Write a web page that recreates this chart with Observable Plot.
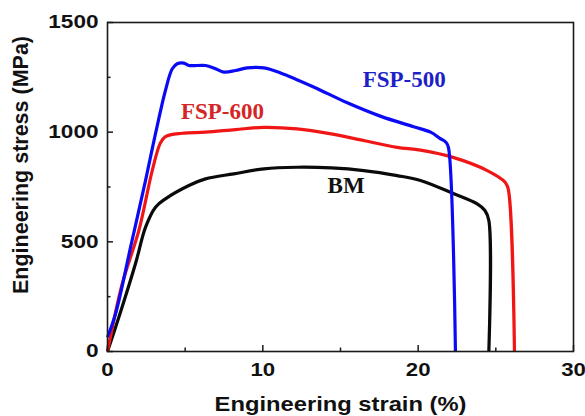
<!DOCTYPE html>
<html><head><meta charset="utf-8">
<script src="https://cdn.jsdelivr.net/npm/d3@7"></script>
<script src="https://cdn.jsdelivr.net/npm/@observablehq/plot@0.6"></script>
<style>body{margin:0;background:#fff}</style>
</head><body><div id="chart"></div>
<script>
// ---- data ----
const fsp500Strain = [0, 0.52, 1.5, 2.45, 3.09, 3.73, 4.17, 4.49, 4.91, 5.24, 6.31, 6.95, 7.49, 8.24, 9.0, 10.07, 11.14, 13.3, 15.4, 17.6, 19.7, 20.8, 21.4, 21.8, 21.95, 22.4];
const fsp500Stress = [65, 172, 480, 780, 993, 1190, 1289, 1312, 1315, 1304, 1304, 1289, 1274, 1281, 1293, 1293, 1270, 1205, 1135, 1072, 1025, 1000, 972, 953, 930, 0];

const fsp600Strain = [0, 0.95, 2.02, 2.88, 3.4, 3.73, 4.81, 6.31, 8.24, 10.07, 12.2, 14.4, 16.5, 18.65, 20.15, 22.3, 24.45, 25.6, 25.8, 26.2];
const fsp600Stress = [0, 309, 552, 825, 950, 980, 995, 1000, 1012, 1022, 1015, 992, 962, 931, 918, 884, 825, 772, 740, 0];

const bmStrain = [0, 0.73, 1.8, 2.45, 3.09, 3.73, 5.24, 6.31, 8.13, 10.07, 12.2, 14.4, 16.5, 18.65, 20.15, 22.3, 23.8, 24.3, 24.55, 24.55];
const bmStress = [0, 156, 400, 567, 658, 696, 757, 787, 810, 833, 840, 837, 825, 802, 780, 719, 673, 643, 597, 0];

const xTicks = [0, 10, 20, 30];
const xMinorTicks = [5, 15, 25];
const yTicks = [0, 500, 1000, 1500];
const yMinorTicks = [250, 750, 1250];

const curveLabels = ["FSP-500", "FSP-600", "BM"];
const curveLabelX = [19.1, 7.4, 15.36];
const curveLabelY = [1240, 1094, 757];

const xTitle = "Engineering strain (%)";
const yTitle = "Engineering stress (MPa)";

// ---- styling ----
const lineColors = ["#0a0af5", "#f01616", "#0a0a0a"];
const labelColors = ["#1f1fc8", "#d42626", "#111111"];

const W = 585, H = 416, mL = 107, mR = 12, mT = 22, mB = 65;
const plotW = W - mL - mR, plotH = H - mT - mB;

const series = [
  {strain: fsp500Strain, stress: fsp500Stress},
  {strain: fsp600Strain, stress: fsp600Stress},
  {strain: bmStrain, stress: bmStress}
].map((s, k) => s.strain.map((x, i) => ({x, y: s.stress[i], k})));

const axisColor = "#1a1a1a";

const chart = Plot.plot({
  width: W, height: H,
  marginLeft: mL, marginRight: mR, marginTop: mT, marginBottom: mB,
  x: {domain: [0, 30], axis: null},
  y: {domain: [0, 1500], axis: null},
  style: {fontFamily: "'Liberation Sans', Arial, sans-serif", background: "#fff", color: "#111"},
  marks: [
    ...[2, 1, 0].map(k => Plot.line(series[k], {x: "x", y: "y", stroke: lineColors[k], strokeWidth: 3.2, strokeLinejoin: "round", strokeLinecap: "butt", curve: "catmull-rom"})),
    Plot.frame({stroke: axisColor, strokeWidth: 1.6}),
    Plot.tickX(xTicks, {x: d => d, insetTop: plotH - 6, stroke: axisColor, strokeWidth: 1.5}),
    Plot.tickX(xMinorTicks, {x: d => d, insetTop: plotH - 3.5, stroke: axisColor, strokeWidth: 1.5}),
    Plot.tickY(yTicks, {y: d => d, insetRight: plotW - 6, stroke: axisColor, strokeWidth: 1.5}),
    Plot.tickY(yMinorTicks, {y: d => d, insetRight: plotW - 3.5, stroke: axisColor, strokeWidth: 1.5}),
    Plot.axisX({ticks: xTicks, label: null, tickSize: 0, tickPadding: 11, fontSize: 18.5, fontWeight: "bold", tickFormat: d => String(d), className: "xtick"}),
    Plot.axisY({ticks: yTicks, label: null, tickSize: 0, tickPadding: 9, fontSize: 18.5, fontWeight: "bold", tickFormat: d => String(d), className: "ytick"}),
    Plot.text([xTitle], {frameAnchor: "bottom", textAnchor: "middle", lineAnchor: "middle", dy: 53, fontSize: 21, fontWeight: "bold", fill: "#111", className: "xtitle"}),
    Plot.text([yTitle], {frameAnchor: "left", textAnchor: "middle", lineAnchor: "middle", rotate: -90, dx: -86.3, dy: -22, fontSize: 21.5, fontWeight: "bold", fill: "#111"}),
    ...curveLabels.map((t, i) => Plot.text([t], {x: () => curveLabelX[i], y: () => curveLabelY[i], text: d => d, fill: labelColors[i], fontFamily: "'Liberation Serif', 'Times New Roman', serif", fontWeight: "bold", fontSize: 23}))
  ]
});

document.getElementById("chart").appendChild(chart);

function stretch(selector, factor) {
  chart.querySelectorAll(selector).forEach(t => {
    const L = t.getComputedTextLength();
    t.setAttribute("textLength", (L * factor).toFixed(1));
    t.setAttribute("lengthAdjust", "spacingAndGlyphs");
  });
}
stretch(".xtick text", 1.2);
stretch(".ytick text", 1.22);
stretch(".xtitle text", 1.13);
</script>
</body></html>
